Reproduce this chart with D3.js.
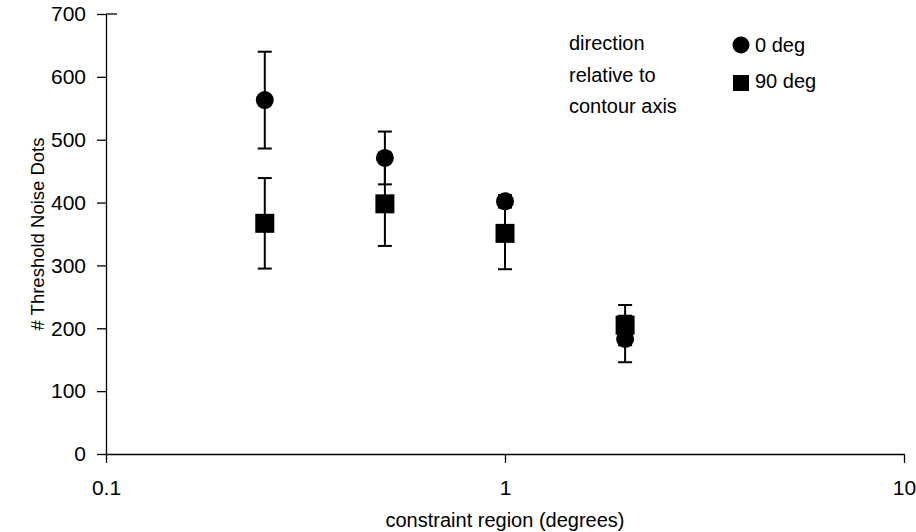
<!doctype html>
<html lang="en">
  <head>
    <meta charset="utf-8">
    <title>Threshold Noise Dots vs constraint region</title>
    <style>
      * { margin: 0; padding: 0; }
      body { background: #fff; overflow: hidden; }
      svg { display: block; font-family: "Liberation Sans", Arial, sans-serif; }
    </style>
    <script src="https://cdn.jsdelivr.net/npm/d3@7"></script>
  </head>
  <body>
    <svg width="916" height="532"></svg>

    <script>
      // data
      const regions = [0.25, 0.5, 1, 2];
      const deg0 = [563, 471, 402, 183];
      const err0 = [77, 42, 10, 37];
      const deg90 = [367, 398, 351, 205];
      const err90 = [72, 67, 57, 32];
      const xTicks = [0.1, 1, 10];
      const yTicks = [0, 100, 200, 300, 400, 500, 600, 700];
      const legendTitle = ["direction", "relative to", "contour axis"];
      const legendNames = ["0 deg", "90 deg"];

      const svg = d3.select("svg");

      const x = d3.scaleLog().domain([0.1, 10]).range([106, 904]);
      const y = d3.scaleLinear().domain([0, 700]).range([454, 14]);

      // axes
      const xAxis = svg.append("g")
          .attr("transform", `translate(0,${y(0)})`)
          .call(d3.axisBottom(x).tickValues(xTicks).tickFormat(d3.format("~g"))
                  .tickSizeInner(9).tickSizeOuter(0).tickPadding(17));
      const yAxis = svg.append("g")
          .attr("transform", `translate(${x(0.1)},0)`)
          .call(d3.axisLeft(y).tickValues(yTicks)
                  .tickSizeInner(9).tickSizeOuter(0).tickPadding(11));

      [xAxis, yAxis].forEach(a => {
        a.attr("font-size", 21).attr("font-family", "Liberation Sans, Arial, sans-serif");
        a.select(".domain").attr("stroke", "#000").attr("stroke-width", 1.3);
        a.selectAll(".tick line").attr("stroke", "#000").attr("stroke-width", 1.3);
        a.selectAll(".tick text").attr("fill", "#000");
      });
      // short cross mark at the top of the y axis
      svg.append("line").attr("x1", x(0.1)).attr("x2", x(0.1) + 11)
          .attr("y1", y(700)).attr("y2", y(700))
          .attr("stroke", "#000").attr("stroke-width", 1.3);

      // axis titles
      svg.append("text")
          .attr("x", 505).attr("y", 527)
          .attr("text-anchor", "middle").attr("font-size", 20)
          .text("constraint region (degrees)");
      svg.append("text")
          .attr("transform", `translate(44,${(y(0) + y(700)) / 2}) rotate(-90)`)
          .attr("text-anchor", "middle").attr("font-size", 18.5)
          .text("# Threshold Noise Dots");

      // error bars + markers
      const series = [
        { vals: deg0, errs: err0, shape: "circle" },
        { vals: deg90, errs: err90, shape: "square" }
      ];

      const capW = 7;
      series.forEach(s => {
        const g = svg.append("g");
        regions.forEach((r, i) => {
          const cx = x(r);
          const top = y(s.vals[i] + s.errs[i]);
          const bot = y(s.vals[i] - s.errs[i]);
          g.append("line").attr("x1", cx).attr("x2", cx).attr("y1", top).attr("y2", bot)
              .attr("stroke", "#000").attr("stroke-width", 2);
          [top, bot].forEach(yy => {
            g.append("line").attr("x1", cx - capW).attr("x2", cx + capW)
                .attr("y1", yy).attr("y2", yy)
                .attr("stroke", "#000").attr("stroke-width", 2);
          });
        });
        regions.forEach((r, i) => {
          const cx = x(r), cy = y(s.vals[i]);
          if (s.shape === "circle") {
            g.append("circle").attr("cx", cx).attr("cy", cy).attr("r", 9).attr("fill", "#000");
          } else {
            g.append("rect").attr("x", cx - 9.5).attr("y", cy - 9.5)
                .attr("width", 19).attr("height", 19).attr("fill", "#000");
          }
        });
      });

      // legend
      const leg = svg.append("g").attr("font-size", 20);
      legendTitle.forEach((t, i) => {
        leg.append("text").attr("x", 569).attr("y", 50 + i * 31.5).text(t);
      });
      leg.append("circle").attr("cx", 741).attr("cy", 45).attr("r", 8.5).attr("fill", "#000");
      leg.append("rect").attr("x", 733).attr("y", 75).attr("width", 16).attr("height", 16).attr("fill", "#000");
      legendNames.forEach((t, i) => {
        leg.append("text").attr("x", 755).attr("y", 52 + i * 36).text(t);
      });
    </script>
  </body>
</html>
